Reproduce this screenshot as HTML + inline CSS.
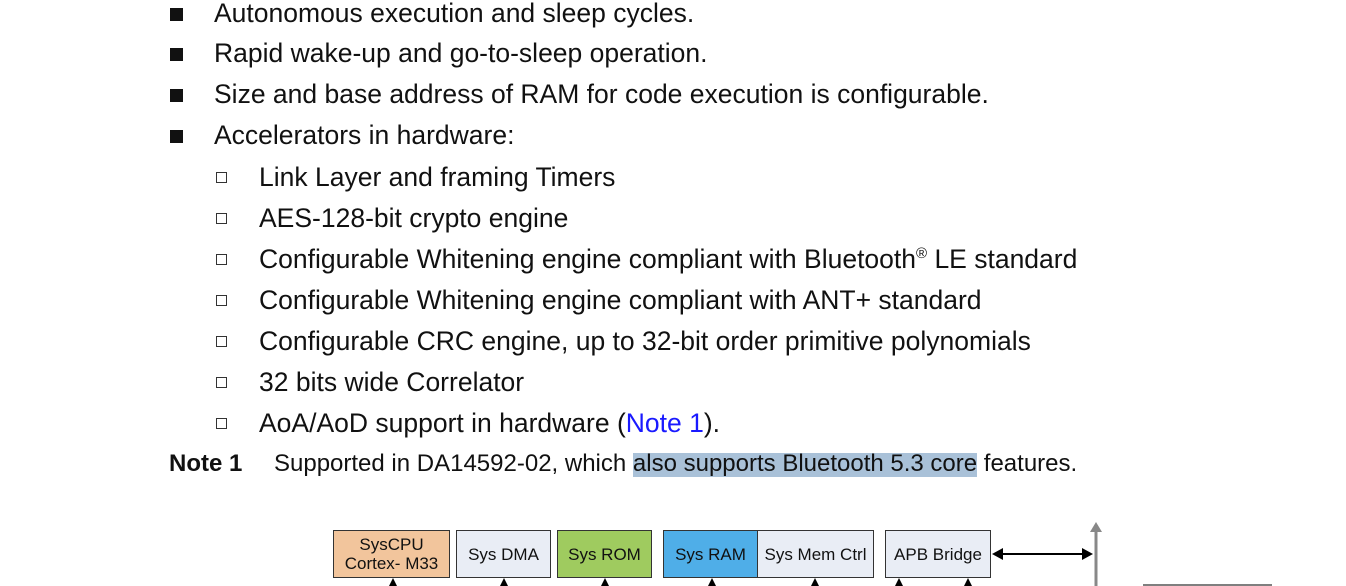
<!DOCTYPE html>
<html><head><meta charset="utf-8"><style>
html,body{margin:0;padding:0;background:#fff;}
body{width:1346px;height:586px;position:relative;overflow:hidden;font-family:"Liberation Sans",Arial,sans-serif;color:#111;}
.t{position:absolute;font-size:26.5px;line-height:28px;white-space:nowrap;}
.b{position:absolute;width:13px;height:13px;background:#111;left:170px;}
.s{position:absolute;width:11px;height:11px;border:1px solid #333;left:216px;box-sizing:border-box;}
.n{position:absolute;font-size:24px;line-height:26px;white-space:nowrap;}
.box{position:absolute;top:530px;height:48px;border:1px solid #333;box-sizing:border-box;font-size:17px;display:flex;align-items:center;justify-content:center;text-align:center;line-height:19px;}
.tri{position:absolute;top:578px;width:0;height:0;border-left:4px solid transparent;border-right:4px solid transparent;border-bottom:8px solid #000;}
</style></head><body>
<div class="b" style="top:8px"></div><div class="t" style="left:214px;top:-1px">Autonomous execution and sleep cycles.</div>
<div class="b" style="top:48px"></div><div class="t" style="left:214px;top:39px">Rapid wake-up and go-to-sleep operation.</div>
<div class="b" style="top:89px"></div><div class="t" style="left:214px;top:80px">Size and base address of RAM for code execution is configurable.</div>
<div class="b" style="top:130px"></div><div class="t" style="left:214px;top:121px">Accelerators in hardware:</div>
<div class="s" style="top:172px"></div><div class="t" style="left:259px;top:163px">Link Layer and framing Timers</div>
<div class="s" style="top:213px"></div><div class="t" style="left:259px;top:204px">AES-128-bit crypto engine</div>
<div class="s" style="top:254px"></div><div class="t" style="left:259px;top:245px">Configurable Whitening engine compliant with Bluetooth<sup style="font-size:15px;vertical-align:10px;line-height:0">®</sup>&nbsp;LE standard</div>
<div class="s" style="top:295px"></div><div class="t" style="left:259px;top:286px">Configurable Whitening engine compliant with ANT+ standard</div>
<div class="s" style="top:336px"></div><div class="t" style="left:259px;top:327px">Configurable CRC engine, up to 32-bit order primitive polynomials</div>
<div class="s" style="top:377px"></div><div class="t" style="left:259px;top:368px">32 bits wide Correlator</div>
<div class="s" style="top:418px"></div><div class="t" style="left:259px;top:409px">AoA/AoD support in hardware (<span style="color:#1a1aff">Note 1</span>).</div>
<div style="position:absolute;left:633px;top:453px;width:344px;height:24px;background:#a9c1d8"></div>
<div class="n" style="left:169px;top:451px;font-weight:bold">Note 1</div>
<div class="n" style="left:274px;top:451px">Supported in DA14592-02, which also supports Bluetooth 5.3 core features.</div>

<div class="box" style="left:333px;width:117px;background:#f2c59c">SysCPU<br>Cortex- M33</div>
<div class="box" style="left:456px;width:95px;background:#e9edf5">Sys DMA</div>
<div class="box" style="left:557px;width:95px;background:#9fcb5f">Sys ROM</div>
<div class="box" style="left:663px;width:95px;background:#4faee8">Sys RAM</div>
<div class="box" style="left:757px;width:117px;background:#e9edf5">Sys Mem Ctrl</div>
<div class="box" style="left:885px;width:106px;background:#e9edf5">APB Bridge</div>
<div class="tri" style="left:389px"></div><div class="tri" style="left:500px"></div><div class="tri" style="left:601px"></div><div class="tri" style="left:708px"></div><div class="tri" style="left:811px"></div><div class="tri" style="left:895px"></div><div class="tri" style="left:964px"></div>
<svg style="position:absolute;left:0;top:0" width="1346" height="586">
<line x1="1000" y1="554" x2="1084" y2="554" stroke="#000" stroke-width="2"/>
<polygon points="992,554 1003,548 1003,560" fill="#000"/>
<polygon points="1093,554 1082,548 1082,560" fill="#000"/>
<line x1="1096" y1="530" x2="1096" y2="586" stroke="#888" stroke-width="3"/>
<polygon points="1096,522 1090,532 1102,532" fill="#888"/>
<line x1="1143" y1="585" x2="1272" y2="585" stroke="#555" stroke-width="1.5"/>
</svg>
</body></html>
